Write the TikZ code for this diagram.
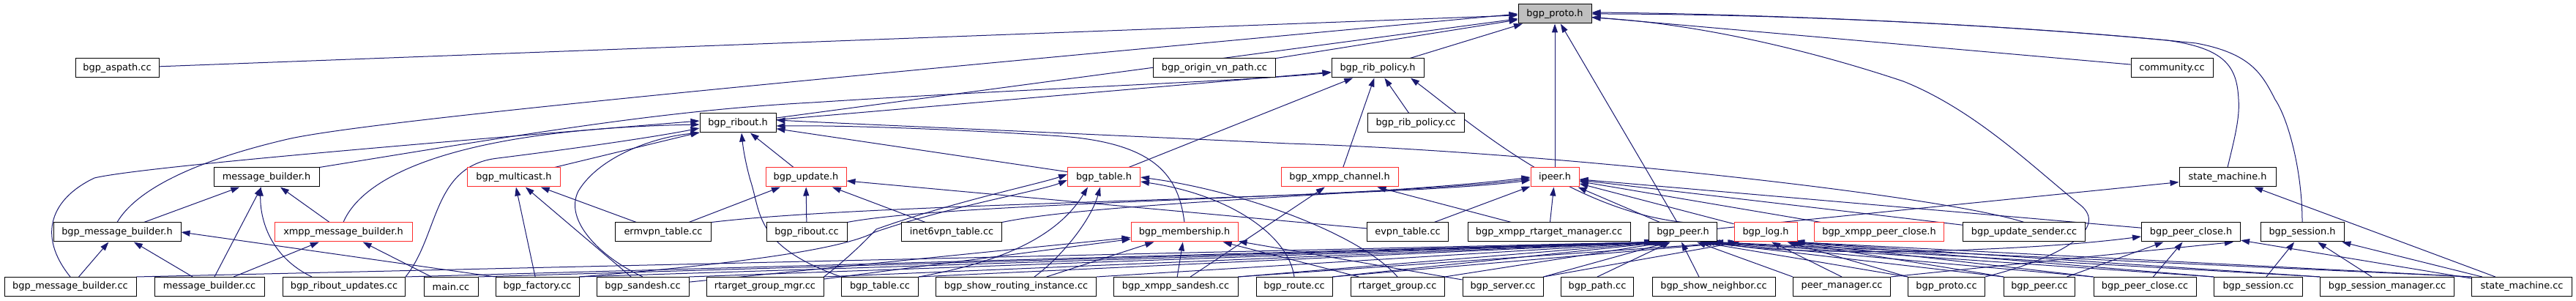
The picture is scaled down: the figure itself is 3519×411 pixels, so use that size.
\documentclass[tikz,border=0pt]{standalone}
\usepackage{fontspec}
\setmainfont{DejaVu Sans}
\usetikzlibrary{arrows.meta}
\definecolor{edgecol}{RGB}{25,25,112}
\definecolor{boxred}{RGB}{255,45,45}
\definecolor{pgrey}{RGB}{191,191,191}
\newcommand\nodefont{\fontsize{12.9}{15}\selectfont}
\pgfdeclarelayer{edgelayer}
\pgfsetlayers{edgelayer,main}
\tikzset{
  box/.style={draw=black, line width=1pt, fill=white, minimum height=26pt, inner sep=0pt, font=\nodefont},
  redbox/.style={box, draw=boxred},
  pbox/.style={box, fill=pgrey},
  dep/.style={draw=edgecol, line width=1pt, -{Triangle[length=12pt,width=8pt]}}
}
\begin{document}
\begin{tikzpicture}[x=1pt,y=1pt]
\useasboundingbox (0,0) rectangle (3519,411);
% row 0
\node[pbox, minimum width=100pt] (P) at (2124,392) {bgp\_proto.h};
% row 1
\node[box, minimum width=114pt] (aspath) at (160,318) {bgp\_aspath.cc};
\node[box, minimum width=167pt] (originvn) at (1659,318) {bgp\_origin\_vn\_path.cc};
\node[box, minimum width=126pt] (ribpolh) at (1882,318) {bgp\_rib\_policy.h};
\node[box, minimum width=112pt] (community) at (2967,318) {community.cc};
% row 2
\node[box, minimum width=104pt] (ribouth) at (1008,243) {bgp\_ribout.h};
\node[box, minimum width=132pt] (ribpolcc) at (1934,243) {bgp\_rib\_policy.cc};
% row 3
\node[box, minimum width=144pt] (mbh) at (364,169) {message\_builder.h};
\node[redbox, minimum width=127pt] (mcast) at (702,169) {bgp\_multicast.h};
\node[redbox, minimum width=110pt] (updh) at (1101,169) {bgp\_update.h};
\node[redbox, minimum width=99pt] (tableh) at (1508,169) {bgp\_table.h};
\node[redbox, minimum width=160pt] (xchan) at (1830,169) {bgp\_xmpp\_channel.h};
\node[redbox, minimum width=66pt] (ipeer) at (2124,169) {ipeer.h};
\node[box, minimum width=132pt] (smh) at (3043,169) {state\_machine.h};
% row 4
\node[box, minimum width=174pt] (bmbh) at (160,94) {bgp\_message\_builder.h};
\node[redbox, minimum width=188pt] (xmbh) at (469,94) {xmpp\_message\_builder.h};
\node[box, minimum width=131pt] (ermvpn) at (906,94) {ermvpn\_table.cc};
\node[box, minimum width=110pt] (riboutcc) at (1102,94) {bgp\_ribout.cc};
\node[box, minimum width=137pt] (inet6vpn) at (1300,94) {inet6vpn\_table.cc};
\node[redbox, minimum width=146pt] (membh) at (1618,94) {bgp\_membership.h};
\node[box, minimum width=111pt] (evpn) at (1923,94) {evpn\_table.cc};
\node[box, minimum width=222pt] (xrtm) at (2116,94) {bgp\_xmpp\_rtarget\_manager.cc};
\node[box, minimum width=93pt] (peerh) at (2299,94) {bgp\_peer.h};
\node[redbox, minimum width=86pt] (logh) at (2412,94) {bgp\_log.h};
\node[redbox, minimum width=177pt] (xpch) at (2567,94) {bgp\_xmpp\_peer\_close.h};
\node[box, minimum width=167pt] (updsender) at (2765,94) {bgp\_update\_sender.cc};
\node[box, minimum width=135pt] (pch) at (2993,94) {bgp\_peer\_close.h};
\node[box, minimum width=114pt] (sessh) at (3145,94) {bgp\_session.h};
% row 5
\node[box, minimum width=180pt] (bmbcc) at (96,19.5) {bgp\_message\_builder.cc};
\node[box, minimum width=150pt] (mbcc) at (286,19.5) {message\_builder.cc};
\node[box, minimum width=167pt] (riboutupd) at (470,19.5) {bgp\_ribout\_updates.cc};
\node[box, minimum width=74pt] (maincc) at (616,19.5) {main.cc};
\node[box, minimum width=114pt] (factory) at (734,19.5) {bgp\_factory.cc};
\node[box, minimum width=126pt] (sandesh) at (878,19.5) {bgp\_sandesh.cc};
\node[box, minimum width=160pt] (rtgmgr) at (1045,19.5) {rtarget\_group\_mgr.cc};
\node[box, minimum width=105pt] (tablecc) at (1202,19.5) {bgp\_table.cc};
\node[box, minimum width=219pt] (showri) at (1388,19.5) {bgp\_show\_routing\_instance.cc};
\node[box, minimum width=170pt] (xsandesh) at (1606,19.5) {bgp\_xmpp\_sandesh.cc};
\node[box, minimum width=104pt] (routecc) at (1768,19.5) {bgp\_route.cc};
\node[box, minimum width=128pt] (rtgcc) at (1909,19.5) {rtarget\_group.cc};
\node[box, minimum width=110pt] (servercc) at (2053,19.5) {bgp\_server.cc};
\node[box, minimum width=99pt] (pathcc) at (2182,19.5) {bgp\_path.cc};
\node[box, minimum width=168pt] (showneigh) at (2341,19.5) {bgp\_show\_neighbor.cc};
\node[box, minimum width=133pt] (peermgr) at (2516,19.5) {peer\_manager.cc};
\node[box, minimum width=105pt] (protocc) at (2659,19.5) {bgp\_proto.cc};
\node[box, minimum width=97pt] (peercc) at (2786,19.5) {bgp\_peer.cc};
\node[box, minimum width=140pt] (pcc) at (2930,19.5) {bgp\_peer\_close.cc};
\node[box, minimum width=121pt] (sesscc) at (3085,19.5) {bgp\_session.cc};
\node[box, minimum width=183pt] (sessmgr) at (3261,19.5) {bgp\_session\_manager.cc};
\node[box, minimum width=137pt] (smcc) at (3445,19.5) {state\_machine.cc};

\begin{pgfonlayer}{edgelayer}
% into bgp_proto.h
\draw[dep] (aspath) -- (P);
\draw[dep] (originvn) -- (P);
\draw[dep] (ribpolh) -- (P);
\draw[dep] (community) -- (P);
\draw[dep] (ribouth) -- (P);
\draw[dep] (ipeer) -- (P);
\draw[dep] (peerh) -- (P);
\draw[dep] (bmbh.north) .. controls (185,150) and (260,190) .. (393,221) .. controls (520,250) and (1300,320) .. (P.west);
\draw[dep] (smh.north) .. controls (3052,220) and (3060,250) .. (3058,275) .. controls (3056,320) and (3040,345) .. (2960,356) .. controls (2700,380) and (2400,392) .. (P.east);
\draw[dep] (sessh.north) .. controls (3145,180) and (3125,250) .. (3108,275) .. controls (3090,310) and (3075,338) .. (3000,352) .. controls (2750,378) and (2400,392) .. ([yshift=2pt]P.east);
\draw[dep] (protocc.north east) .. controls (2820,60) and (2880,100) .. (2842,131) .. controls (2780,180) and (2700,260) .. (2600,300) .. controls (2450,350) and (2300,380) .. ([yshift=-5pt]P.east);
% into bgp_rib_policy.h
\draw[dep] (ribouth) -- (ribpolh);
\draw[dep] (mbh.north east) .. controls (700,225) and (900,260) .. (1110,271) .. controls (1400,290) and (1700,300) .. ([yshift=-6pt]ribpolh.west);
\draw[dep] (ribpolcc) -- (ribpolh);
\draw[dep] (xchan) -- (ribpolh);
\draw[dep] (tableh) -- (ribpolh);
\draw[dep] (peerh.north) .. controls (2140,125) and (2000,250) .. ([xshift=45pt]ribpolh.south);
% into bgp_ribout.h
\draw[dep] (bmbcc.north) .. controls (50,90) and (70,140) .. (129,168) .. controls (200,185) and (700,225) .. ([yshift=3pt]ribouth.west);
\draw[dep] (xmbh.north) .. controls (500,180) and (650,235) .. ([yshift=-2pt]ribouth.west);
\draw[dep] ([xshift=-44pt]riboutupd.north) .. controls (370,60) and (355,110) .. ([xshift=-8pt]mbh.south);
\draw[dep] (riboutupd.north east) .. controls (600,90) and (590,185) .. (680,195) .. controls (800,210) and (900,225) .. ([yshift=-7pt]ribouth.west);
\draw[dep] (mcast) -- (ribouth);
\draw[dep] (sandesh.north) .. controls (820,60) and (770,110) .. (790,150) .. controls (820,200) and (900,225) .. (ribouth.south west);
\draw[dep] (tablecc.north west) .. controls (1030,75) and (1040,120) .. (1025,165) .. controls (1018,190) and (1015,210) .. ([xshift=5pt]ribouth.south);
\draw[dep] (updh) -- (ribouth);
\draw[dep] (tableh) -- (ribouth);
\draw[dep] (membh.north) .. controls (1610,170) and (1580,215) .. (1450,225) .. controls (1300,235) and (1150,240) .. ([yshift=-4pt]ribouth.east);
\draw[dep] (updsender.north) .. controls (2650,145) and (2100,205) .. (1760,215) .. controls (1400,232) and (1200,240) .. ([yshift=4pt]ribouth.east);
% into message_builder.h
\draw[dep] (bmbh) -- (mbh);
\draw[dep] (mbcc) -- (mbh);
\draw[dep] (xmbh) -- (mbh);
% into bgp_multicast.h
\draw[dep] (factory) -- (mcast);
\draw[dep] (sandesh) -- (mcast);
\draw[dep] (ermvpn) -- (mcast);
% into bgp_update.h
\draw[dep] (ermvpn) -- (updh);
\draw[dep] (riboutcc) -- (updh);
\draw[dep] (inet6vpn) -- (updh);
\draw[dep] (evpn) -- (updh);
% into bgp_table.h
\draw[dep] (factory.north east) .. controls (1000,50) and (1150,70) .. (1195,94) .. controls (1300,130) and (1420,150) .. ([yshift=-4pt]tableh.west);
\draw[dep] (rtgmgr.north east) .. controls (1160,60) and (1180,80) .. (1197,98) .. controls (1300,135) and (1420,160) .. ([yshift=4pt]tableh.west);
\draw[dep] (tablecc.north east) .. controls (1350,50) and (1440,80) .. ([xshift=-22pt]tableh.south);
\draw[dep] ([xshift=25pt]showri.north) .. controls (1450,60) and (1490,110) .. ([xshift=-5pt]tableh.south);
\draw[dep] (rtgcc.north) .. controls (1860,90) and (1700,150) .. (tableh.east);
\draw[dep] (routecc.north) .. controls (1760,90) and (1680,145) .. ([yshift=-6pt]tableh.east);
% into bgp_xmpp_channel.h
\draw[dep] (xsandesh) -- (xchan);
\draw[dep] (xrtm) -- (xchan);
% into ipeer.h
\draw[dep] (ermvpn.north east) .. controls (1200,135) and (1900,140) .. ([yshift=-4pt]ipeer.west);
\draw[dep] (riboutcc.north east) .. controls (1300,135) and (1900,142) .. ([yshift=-2pt]ipeer.west);
\draw[dep] (inet6vpn.north east) .. controls (1500,135) and (1900,145) .. (ipeer.west);
\draw[dep] (evpn) -- (ipeer);
\draw[dep] (xrtm) -- (ipeer);
\draw[dep] (peerh) -- (ipeer);
\draw[dep] (logh) -- (ipeer);
\draw[dep] (xpch) -- (ipeer);
\draw[dep] (updsender) -- (ipeer);
\draw[dep] (pch) -- (ipeer);
% into bgp_membership.h
\draw[dep] (sandesh) -- (membh);
\draw[dep] (rtgmgr) -- (membh);
\draw[dep] (showri) -- (membh);
\draw[dep] (xsandesh) -- (membh);
\draw[dep] (rtgcc) -- (membh);
\draw[dep] (servercc) -- (membh);
% into bgp_message_builder.h / xmpp_message_builder.h
\draw[dep] (bmbcc) -- (bmbh);
\draw[dep] (mbcc) -- (bmbh);
\draw[dep] (factory.north west) -- (bmbh.east);
\draw[dep] (mbcc) -- (xmbh);
\draw[dep] (maincc) -- (xmbh);
% into bgp_peer.h
\draw[dep] (bmbcc.north east) -- ([xshift=6pt]peerh.south west);
\draw[dep] (riboutupd.north east) -- ([xshift=8pt]peerh.south west);
\draw[dep] (maincc.north east) -- ([xshift=10pt]peerh.south west);
\draw[dep] (factory.north east) -- ([xshift=12pt]peerh.south west);
\draw[dep] (sandesh.north east) -- ([xshift=14pt]peerh.south west);
\draw[dep] (rtgmgr.north east) -- ([xshift=16pt]peerh.south west);
\draw[dep] (tablecc.north east) -- ([xshift=18pt]peerh.south west);
\draw[dep] (showri.north east) -- ([xshift=20pt]peerh.south west);
\draw[dep] (xsandesh.north east) -- ([xshift=22pt]peerh.south west);
\draw[dep] (routecc.north east) -- ([xshift=24pt]peerh.south west);
\draw[dep] (rtgcc.north east) -- ([xshift=26pt]peerh.south west);
\draw[dep] (servercc.north east) -- ([xshift=28pt]peerh.south west);
\draw[dep] (pathcc.north) -- ([xshift=30pt]peerh.south west);
\draw[dep] ([xshift=-20pt]showneigh.north) -- ([xshift=-2pt]peerh.south);
\draw[dep] (peermgr.north west) -- ([xshift=-28pt]peerh.south east);
\draw[dep] (protocc.north west) -- ([xshift=-24pt]peerh.south east);
\draw[dep] (peercc.north west) -- ([xshift=-20pt]peerh.south east);
\draw[dep] (pcc.north west) -- ([xshift=-16pt]peerh.south east);
\draw[dep] (sesscc.north west) -- ([xshift=-12pt]peerh.south east);
\draw[dep] (sessmgr.north west) -- ([xshift=-8pt]peerh.south east);
\draw[dep] (smcc.north west) -- ([xshift=-4pt]peerh.south east);
% into bgp_log.h
\draw[dep] (xsandesh.north east) -- ([xshift=4pt]logh.south west);
\draw[dep] (routecc.north east) -- ([xshift=6pt]logh.south west);
\draw[dep] (servercc.north east) -- ([xshift=8pt]logh.south west);
\draw[dep] (peermgr.north) -- ([xshift=8pt]logh.south);
\draw[dep] (protocc.north west) -- ([xshift=-14pt]logh.south east);
\draw[dep] (peercc.north west) -- ([xshift=-11pt]logh.south east);
\draw[dep] (pcc.north west) -- ([xshift=-8pt]logh.south east);
\draw[dep] (sesscc.north west) -- ([xshift=-6pt]logh.south east);
\draw[dep] (sessmgr.north west) -- ([xshift=-4pt]logh.south east);
\draw[dep] (smcc.north west) -- ([xshift=-2pt]logh.south east);
% into bgp_peer_close.h
\draw[dep] (peerh.south east) .. controls (2420,60) and (2750,65) .. ([yshift=-6pt]pch.west);
\draw[dep] (peercc) -- (pch);
\draw[dep] (pcc) -- (pch);
\draw[dep] (smcc) -- (pch);
\draw[dep] (peermgr.north east) -- ([xshift=-10pt]pch.south east);
% into bgp_session.h
\draw[dep] (sesscc) -- (sessh);
\draw[dep] (sessmgr) -- (sessh);
\draw[dep] (smcc) -- (sessh);
% into state_machine.h
\draw[dep] (peerh) -- (smh);
\draw[dep] (smcc) -- (smh);
\end{pgfonlayer}
\end{tikzpicture}
\end{document}
